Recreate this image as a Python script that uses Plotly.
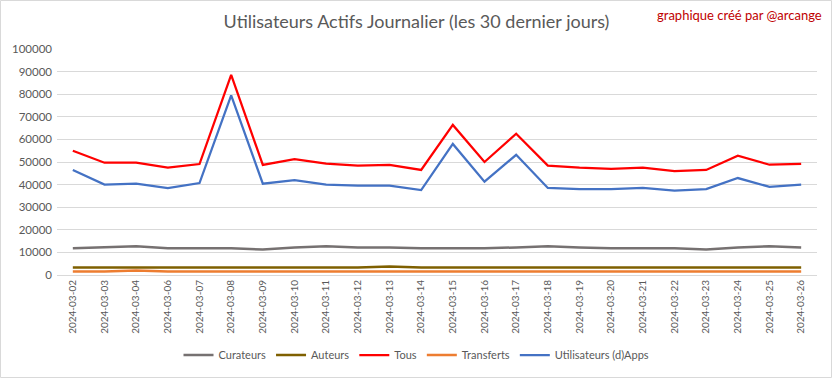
import plotly.graph_objects as go

dates = ["2024-03-02", "2024-03-03", "2024-03-04", "2024-03-06", "2024-03-07", "2024-03-08",
         "2024-03-09", "2024-03-10", "2024-03-11", "2024-03-12", "2024-03-13", "2024-03-14",
         "2024-03-15", "2024-03-16", "2024-03-17", "2024-03-18", "2024-03-19", "2024-03-20",
         "2024-03-21", "2024-03-22", "2024-03-23", "2024-03-24", "2024-03-25", "2024-03-26"]

curateurs = [11800, 12200, 12700, 11800, 11800, 11800, 11300, 12200, 12700, 12200, 12200, 11800,
             11800, 11800, 12200, 12700, 12200, 11800, 11800, 11800, 11300, 12200, 12700, 12200]
auteurs = [3300, 3300, 3300, 3300, 3300, 3300, 3300, 3300, 3300, 3300, 3800, 3300,
           3300, 3300, 3300, 3300, 3300, 3300, 3300, 3300, 3300, 3300, 3300, 3300]
tous = [55000, 49700, 49700, 47500, 49100, 88500, 48700, 51300, 49300, 48400, 48700, 46500,
        66400, 50000, 62500, 48400, 47500, 47000, 47500, 46000, 46500, 52800, 48800, 49200]
transferts = [1500, 1500, 2000, 1500, 1500, 1500, 1500, 1500, 1500, 1500, 1500, 1500,
              1500, 1500, 1500, 1500, 1500, 1500, 1500, 1500, 1500, 1500, 1500, 1500]
apps = [46500, 40000, 40400, 38500, 40700, 79500, 40400, 42000, 40000, 39500, 39500, 37600,
        58000, 41300, 53200, 38500, 38000, 38000, 38500, 37300, 38000, 42900, 39000, 40000]

y_ticks = [0, 10000, 20000, 30000, 40000, 50000, 60000, 70000, 80000, 90000, 100000]

series = [
    ("Curateurs", curateurs, "#767171", 2.5),
    ("Auteurs", auteurs, "#7f6000", 2.5),
    ("Tous", tous, "#ff0000", 2.25),
    ("Transferts", transferts, "#ed7d31", 2.5),
    ("Utilisateurs (d)Apps", apps, "#4472c4", 2.25),
]

FONT = "Lato"
fig = go.Figure()
for name, vals, color, w in series:
    fig.add_trace(go.Scatter(x=dates, y=vals, name=name, mode="lines",
                             line=dict(color=color, width=w)))

W, H = 833, 379
ml, mr, mt, mb = 57, 16, 49, 104
fig.update_layout(
    width=W, height=H,
    margin=dict(l=ml, r=mr, t=mt, b=mb, autoexpand=False),
    paper_bgcolor="white", plot_bgcolor="white",
    font=dict(family=FONT, size=11, color="#595959"),
    title=dict(text="Utilisateurs Actifs Journalier (les 30 dernier jours)",
               x=0.5, xref="container", xanchor="center", y=1 - 22 / H, yref="container",
               yanchor="middle",
               font=dict(family=FONT, size=18, color="#595959")),
    showlegend=True,
    legend=dict(orientation="h", x=0.5, xanchor="center", xref="container",
                y=1 - 355 / H, yref="container", yanchor="middle",
                font=dict(family=FONT, size=11, color="#595959"),
                itemwidth=30, traceorder="normal"),
    xaxis=dict(type="category", tickangle=-90, showgrid=False, ticks="",
               range=[-0.5, len(dates) - 0.5],
               showline=True, linecolor="#d9d9d9", linewidth=1, automargin=False,
               tickfont=dict(family=FONT, size=10, color="#595959"), fixedrange=True),
    yaxis=dict(range=[0, 100000], tickvals=y_ticks, ticktext=[str(v) for v in y_ticks],
               showgrid=True, gridcolor="#d9d9d9", gridwidth=1, zeroline=False,
               ticks="", showline=False, automargin=False, ticklabelstandoff=4,
               tickfont=dict(family=FONT, size=11.5, color="#595959"), fixedrange=True),
    annotations=[dict(text="graphique créé par @arcange", xref="paper", yref="paper",
                      x=1 + (824 - (W - mr)) / (W - ml - mr), xanchor="right",
                      y=1 + (mt - 15) / (H - mt - mb), yanchor="middle", showarrow=False,
                      font=dict(family=FONT, size=13, color="#c00000"))],
    shapes=[dict(type="rect", xref="paper", yref="paper",
                 x0=-(ml - 0.5) / (W - ml - mr), x1=1 + (mr - 1.5) / (W - ml - mr),
                 y0=-(mb - 1.5) / (H - mt - mb), y1=1 + (mt - 0.5) / (H - mt - mb),
                 line=dict(color="#d9d9d9", width=1), layer="below")],
)

fig.write_html("out.html", config={"displayModeBar": False},
               post_script="document.body.style.margin='0';document.documentElement.style.margin='0';")
